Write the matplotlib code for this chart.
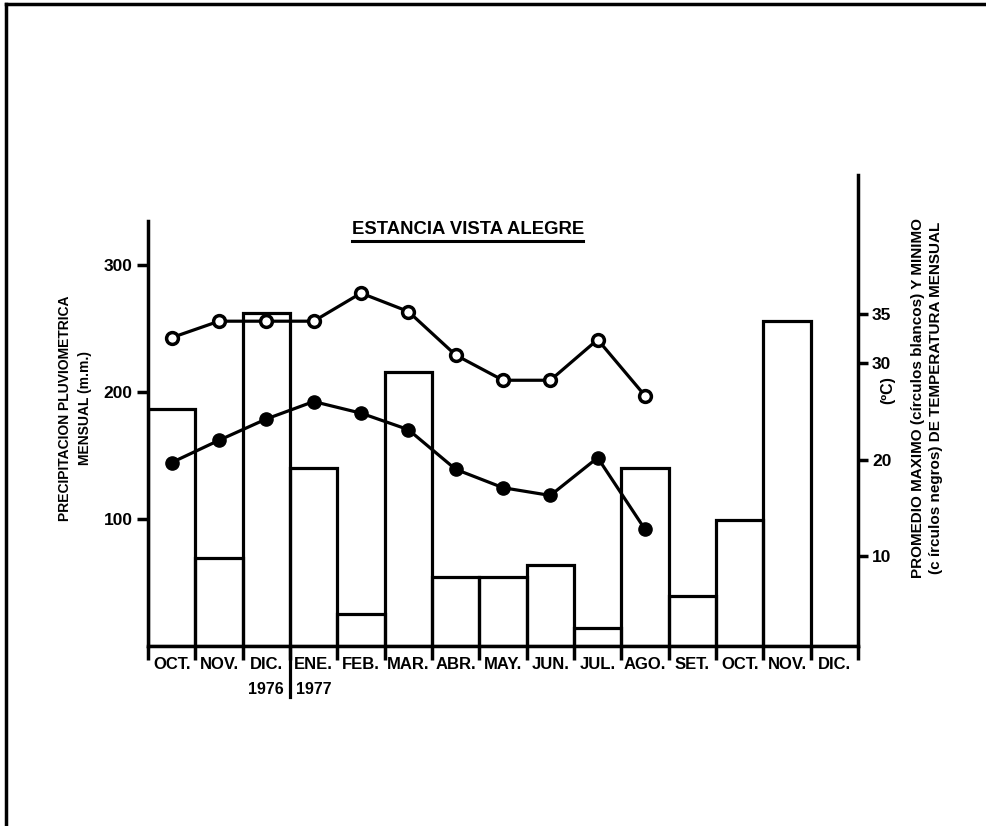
import matplotlib
matplotlib.use("Agg")
import matplotlib.pyplot as plt
import matplotlib.transforms as mtransforms
from matplotlib.lines import Line2D

plt.rcParams['font.family'] = ['Liberation Sans', 'DejaVu Sans']
plt.rcParams['font.weight'] = 'bold'

# datos
meses = ["OCT.", "NOV.", "DIC.", "ENE.", "FEB.", "MAR.", "ABR.", "MAY.",
         "JUN.", "JUL.", "AGO.", "SET.", "OCT.", "NOV.", "DIC."]
precipitacion = [187, 69, 262, 140, 25, 216, 54, 54, 64, 14, 140, 39, 99, 256, 0]
temp_max = [32.6, 34.3, 34.3, 34.3, 37.2, 35.3, 30.8, 28.2, 28.2, 32.4, 26.6]
temp_min = [19.7, 22.0, 24.2, 26.0, 24.8, 23.1, 19.0, 17.1, 16.3, 20.2, 12.8]
anios = ["1976", "1977"]
ticks_precip = [100, 200, 300]
ticks_temp = [10, 20, 30, 35]

W, H = 987, 826
fig = plt.figure(figsize=(W / 100, H / 100), dpi=100)

ax = fig.add_axes([148 / W, 180 / H, 710 / W, 471 / H])
ax2 = ax.twinx()

x_bar = [i + 0.5 for i in range(len(meses))]
ax.bar(x_bar, precipitacion, width=1.0, fill=False, edgecolor='black',
       linewidth=2.3)

x_t = [i + 0.5 for i in range(len(temp_max))]
ax2.plot(x_t, temp_max, '-o', color='black', linewidth=2.3,
         markersize=8.5, markerfacecolor='white', markeredgewidth=2.5)
ax2.plot(x_t, temp_min, '-o', color='black', linewidth=2.3,
         markersize=9.5, markerfacecolor='black')

ax.set_xlim(0, len(meses))
ax.set_ylim(0, 371)
ax2.set_ylim(0.75, 49.4)

for a in (ax, ax2):
    a.spines['top'].set_visible(False)
    for s in a.spines.values():
        s.set_linewidth(2.5)
ax.spines['right'].set_visible(False)
ax2.spines['left'].set_visible(False)
ax2.spines['bottom'].set_visible(False)
ax.spines['left'].set_bounds(0, 335)

ax.set_xticks(range(len(meses) + 1))
ax.set_xticklabels([])
ax.set_xticks(x_bar, minor=True)
ax.set_xticklabels(meses, minor=True, fontsize=12, fontweight='bold')
ax.tick_params(axis='x', which='major', direction='out', length=10, width=2.5)
ax.tick_params(axis='x', which='minor', length=0, pad=8)

ax.set_yticks(ticks_precip)
ax.set_yticklabels([str(v) for v in ticks_precip], fontsize=12.5, fontweight='bold')
ax.tick_params(axis='y', direction='out', length=8, width=2.5, pad=3)

ax2.set_yticks(ticks_temp)
ax2.set_yticklabels([str(v) for v in ticks_temp], fontsize=12.5, fontweight='bold')
ax2.tick_params(axis='y', direction='out', length=7, width=2.5, pad=3)

# separador de anio bajo el eje
trans = mtransforms.blended_transform_factory(ax.transData, ax.transAxes)
ax.add_line(Line2D([3, 3], [0, -51 / 471], transform=trans, color='black',
                   linewidth=2.3, clip_on=False))
ax.text(2.5, -44 / 471, anios[0], transform=trans, ha='center', va='center',
        fontsize=11.5, fontweight='bold')
ax.text(3.5, -44 / 471, anios[1], transform=trans, ha='center', va='center',
        fontsize=11.5, fontweight='bold')

# titulo subrayado
fig.text(468 / W, 1 - 229 / H, "ESTANCIA VISTA ALEGRE", ha='center',
         va='center', fontsize=13.3, fontweight='bold')
fig.add_artist(Line2D([352 / W, 583 / W], [1 - 241 / H, 1 - 241 / H],
                      color='black', linewidth=2.2))

fig.text(75 / W, 1 - 408 / H, "PRECIPITACION PLUVIOMETRICA\nMENSUAL (m.m.)",
         rotation=90, ha='center', va='center', multialignment='center',
         fontsize=10, fontweight='bold', linespacing=1.6)
fig.text(927 / W, 1 - 398 / H,
         "PROMEDIO MAXIMO (círculos blancos) Y MINIMO\n(c írculos negros) DE TEMPERATURA MENSUAL",
         rotation=90, ha='center', va='center', multialignment='center',
         fontsize=11, fontweight='bold', linespacing=1.3)
fig.text(888 / W, 1 - 390 / H, "(ºC)", rotation=90, ha='center', va='center',
         fontsize=11.5, fontweight='bold')

# marco del escaneo
fig.add_artist(Line2D([6 / W, 1], [1 - 4 / H, 1 - 4 / H], color='black', linewidth=2.5))
fig.add_artist(Line2D([6 / W, 6 / W], [0, 1 - 4 / H], color='black', linewidth=2.5))

fig.savefig("out.png", dpi=100)
